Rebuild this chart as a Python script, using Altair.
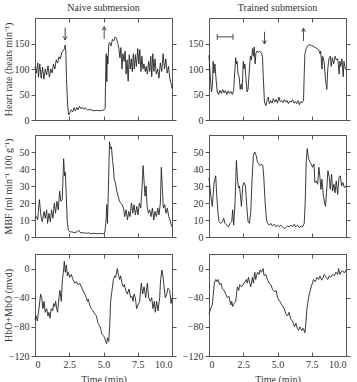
import altair as alt
import pandas as pd

# ---------------- data ----------------
XTICKS = [0, 2.5, 5, 7.5, 10]

# Naive submersion: heart rate
naive_hr_t = [0.0, 0.1, 0.2, 0.25, 0.35, 0.45, 0.55, 0.65, 0.75, 0.85, 0.95, 1.05, 1.15, 1.25, 1.35,
              1.45, 1.55, 1.65, 1.75, 1.85, 1.95, 2.05, 2.15, 2.2, 2.25, 2.3, 2.38, 2.45, 2.55, 2.65,
              2.75, 2.85, 2.95, 3.05, 3.15, 3.25, 3.35, 3.45, 3.55, 3.65, 3.75, 3.85, 3.95, 4.1, 4.3,
              4.5, 4.7, 4.9, 5.05, 5.12, 5.16, 5.2, 5.24, 5.28, 5.32, 5.38, 5.45, 5.55, 5.65, 5.75,
              5.85, 5.95, 6.05, 6.12, 6.2, 6.27, 6.35, 6.42, 6.5, 6.58, 6.65, 6.72, 6.8, 6.88, 6.95,
              7.03, 7.1, 7.18, 7.25, 7.33, 7.4, 7.5, 7.58, 7.65, 7.73, 7.8, 7.88, 7.95, 8.05, 8.12,
              8.2, 8.3, 8.38, 8.45, 8.52, 8.6, 8.68, 8.76, 8.85, 8.95, 9.05, 9.15, 9.25, 9.35, 9.45,
              9.55, 9.65, 9.75, 9.85, 9.95, 10.0]
naive_hr_v = [105, 92, 112, 84, 110, 82, 104, 80, 100, 88, 106, 84, 100, 92, 110,
              100, 118, 112, 124, 120, 132, 136, 140, 147, 135, 80, 30, 10, 14, 20,
              16, 24, 18, 25, 20, 27, 22, 25, 21, 24, 22, 19, 21, 20, 18,
              19, 18, 19, 20, 22, 95, 130, 75, 125, 110, 148, 152, 145, 158, 155,
              163, 160, 150, 140, 122, 142, 100, 130, 115, 135, 90, 118, 76, 128, 100,
              120, 95, 130, 100, 128, 105, 140, 110, 138, 95, 125, 100, 110, 95, 105,
              90, 115, 95, 125, 85, 130, 95, 120, 90, 100, 82, 112, 95, 130, 100,
              120, 92, 105, 80, 70, 62]

# Trained submersion: heart rate
trained_hr_t = [0.0, 0.08, 0.18, 0.25, 0.3, 0.36, 0.43, 0.5, 0.6, 0.7, 0.8, 0.9, 1.0, 1.1, 1.2,
                1.3, 1.4, 1.5, 1.6, 1.7, 1.8, 1.87, 1.95, 2.0, 2.05, 2.12, 2.2, 2.28, 2.35, 2.42,
                2.5, 2.55, 2.62, 2.7, 2.78, 2.85, 2.95, 3.02, 3.1, 3.18, 3.25, 3.3, 3.37, 3.42, 3.5,
                3.6, 3.7, 3.8, 3.9, 3.97, 4.05, 4.15, 4.25, 4.33, 4.4, 4.5, 4.6, 4.7, 4.8, 4.9,
                5.0, 5.1, 5.2, 5.3, 5.4, 5.5, 5.6, 5.7, 5.8, 5.9, 6.0, 6.1, 6.2, 6.3, 6.4,
                6.5, 6.6, 6.7, 6.8, 6.9, 6.95, 7.0, 7.1, 7.2, 7.3, 7.5, 7.7, 7.9, 8.0, 8.1,
                8.15, 8.25, 8.3, 8.4, 8.5, 8.6, 8.67, 8.75, 8.85, 8.92, 9.0, 9.1, 9.2, 9.3, 9.4,
                9.5, 9.55, 9.62, 9.7, 9.8, 9.85, 9.95, 10.0]
trained_hr_v = [127, 90, 55, 70, 115, 92, 110, 85, 55, 50, 58, 52, 60, 53, 58,
                50, 57, 52, 56, 50, 58, 90, 122, 110, 115, 90, 85, 60, 70, 60,
                115, 100, 110, 80, 55, 60, 100, 125, 118, 140, 125, 143, 110, 130, 135,
                133, 135, 132, 125, 80, 35, 28, 40, 45, 32, 38, 33, 42, 35, 40,
                33, 45, 36, 38, 34, 40, 35, 38, 32, 37, 35, 40, 33, 36, 32,
                38, 30, 36, 34, 38, 90, 130, 140, 145, 148, 146, 143, 140, 138, 130,
                135, 100, 125, 115, 80, 60, 100, 120, 125, 105, 122, 110, 125, 118, 120,
                90, 115, 105, 120, 85, 115, 100, 100]

# Naive submersion: muscle blood flow
naive_mbf_t = [0.0, 0.12, 0.19, 0.32, 0.44, 0.53, 0.66, 0.75, 0.85, 0.92, 1.02, 1.12, 1.21, 1.31, 1.41,
               1.5, 1.6, 1.7, 1.8, 1.89, 1.99, 2.09, 2.16, 2.21, 2.28, 2.35, 2.43, 2.55, 2.7, 2.9,
               3.1, 3.2, 3.3, 3.5, 3.7, 3.9, 4.1, 4.3, 4.5, 4.7, 4.9, 5.05, 5.1, 5.17, 5.24,
               5.29, 5.36, 5.44, 5.51, 5.58, 5.66, 5.73, 5.78, 5.87, 5.97, 6.07, 6.17, 6.26, 6.36, 6.46,
               6.55, 6.65, 6.75, 6.84, 6.94, 7.04, 7.14, 7.23, 7.33, 7.43, 7.52, 7.62, 7.72, 7.82, 7.89,
               7.96, 8.03, 8.11, 8.18, 8.28, 8.37, 8.47, 8.57, 8.67, 8.76, 8.86, 8.96, 9.05, 9.15, 9.22,
               9.3, 9.37, 9.47, 9.56, 9.66, 9.76, 9.85, 9.95, 10.0]
naive_mbf_v = [11, 12, 10, 22, 12, 9, 15, 11, 16, 8, 14, 9, 16, 11, 20,
               14, 21, 16, 27, 21, 22, 46, 36, 38, 25, 10, 4, 3, 3, 2.5,
               3.2, 4, 2.6, 2.5, 2.2, 2.4, 2, 2.2, 1.9, 2.1, 1.9, 2, 3, 8, 19,
               8, 30, 56, 52, 53, 45, 40, 34, 32, 27, 24, 21, 20, 19, 17,
               12, 16, 10, 15, 12, 20, 14, 19, 13, 18, 13, 20, 17, 30, 42,
               33, 24, 30, 18, 14, 16, 12, 17, 10, 15, 12, 17, 13, 20, 41,
               28, 17, 19, 14, 17, 12, 10, 7, 6]

# Trained submersion: muscle blood flow
trained_mbf_t = [0.0, 0.12, 0.24, 0.37, 0.49, 0.56, 0.66, 0.73, 0.85, 0.98, 1.07, 1.17, 1.29, 1.41, 1.54,
                 1.66, 1.73, 1.8, 1.9, 2.0, 2.07, 2.15, 2.22, 2.29, 2.37, 2.46, 2.56, 2.66, 2.76, 2.85,
                 2.95, 3.05, 3.15, 3.24, 3.34, 3.44, 3.54, 3.63, 3.73, 3.83, 3.93, 4.0, 4.1, 4.2, 4.29,
                 4.39, 4.51, 4.63, 4.76, 4.88, 5.0, 5.12, 5.24, 5.37, 5.49, 5.61, 5.73, 5.85, 5.98, 6.1,
                 6.22, 6.34, 6.46, 6.59, 6.71, 6.83, 6.95, 7.02, 7.1, 7.17, 7.27, 7.37, 7.46, 7.56, 7.66,
                 7.73, 7.83, 7.93, 8.02, 8.1, 8.17, 8.24, 8.34, 8.44, 8.51, 8.61, 8.68, 8.78, 8.85, 8.95,
                 9.02, 9.12, 9.2, 9.29, 9.39, 9.49, 9.59, 9.68, 9.78, 9.88, 10.0]
trained_mbf_v = [35, 25, 18, 32, 36, 25, 14, 9, 8, 9, 11, 8, 7, 6, 8,
                 9, 16, 7, 20, 45, 35, 29, 30, 25, 18, 30, 32, 30, 18, 9,
                 8, 15, 35, 48, 50, 48, 44, 43, 42, 43, 42, 35, 20, 10, 8,
                 7, 8, 6.5, 7.5, 6, 7, 6, 7, 6, 5, 5.5, 6.5, 6, 7, 6,
                 7.5, 6, 7, 5.5, 6.5, 6, 8, 20, 45, 52, 46, 44, 43, 41, 43,
                 32, 33, 31, 41, 35, 28, 34, 25, 20, 18, 30, 39, 35, 28, 37,
                 27, 31, 26, 33, 25, 35, 36, 30, 32, 29, 30]

# Naive submersion: HbO+MbO
naive_hbo_t = [0.0, 0.07, 0.17, 0.29, 0.41, 0.49, 0.58, 0.66, 0.75, 0.85, 0.95, 1.02, 1.09, 1.19, 1.29,
               1.36, 1.44, 1.51, 1.58, 1.65, 1.75, 1.82, 1.92, 2.0, 2.07, 2.14, 2.21, 2.29, 2.36, 2.43,
               2.53, 2.65, 2.77, 2.9, 3.02, 3.14, 3.26, 3.38, 3.5, 3.63, 3.75, 3.82, 3.89, 3.99, 4.11,
               4.23, 4.36, 4.48, 4.6, 4.7, 4.79, 4.89, 4.99, 5.09, 5.16, 5.23, 5.3, 5.38, 5.45, 5.52,
               5.62, 5.72, 5.82, 5.89, 5.96, 6.01, 6.08, 6.18, 6.25, 6.35, 6.45, 6.52, 6.62, 6.74, 6.86,
               6.98, 7.08, 7.15, 7.23, 7.32, 7.42, 7.52, 7.64, 7.76, 7.86, 7.96, 8.08, 8.2, 8.3, 8.42,
               8.52, 8.61, 8.71, 8.78, 8.88, 8.98, 9.1, 9.17, 9.27, 9.34, 9.42, 9.51, 9.61, 9.71, 9.83,
               9.93, 10.0]
naive_hbo_v = [-70, -65, -72, -55, -35, -40, -55, -45, -60, -55, -65, -60, -68, -55, -58,
               -48, -52, -45, -55, -60, -40, -30, -45, -15, -5, 10, -5, 5, -10, -5,
               -12, -8, -15, -20, -18, -22, -20, -25, -30, -35, -40, -45, -42, -50, -55,
               -58, -62, -65, -75, -78, -82, -90, -92, -95, -100, -103, -95, -100, -80, -45,
               -30, -15, -10, -12, -5, 0, -8, -15, -10, -20, -25, -22, -30, -35, -28,
               -40, -38, -45, -35, -40, -55, -50, -45, -20, -35, -25, -40, -20, -40, -45,
               -40, -55, -45, -60, -45, -58, -40, -15, -2, -10, -25, -40, -35, -27, -30,
               -48, -40]

# Trained submersion: HbO+MbO
trained_hbo_t = [0.0, 0.12, 0.24, 0.39, 0.49, 0.59, 0.66, 0.78, 0.88, 0.98, 1.1, 1.22, 1.34, 1.46, 1.59,
                 1.66, 1.73, 1.83, 1.95, 2.07, 2.17, 2.24, 2.39, 2.56, 2.73, 2.8, 2.88, 2.98, 3.05, 3.17,
                 3.24, 3.34, 3.41, 3.54, 3.66, 3.73, 3.83, 3.95, 4.02, 4.15, 4.27, 4.39, 4.51, 4.63, 4.8,
                 4.9, 5.0, 5.17, 5.32, 5.49, 5.61, 5.73, 5.85, 5.98, 6.1, 6.24, 6.34, 6.44, 6.54, 6.63,
                 6.78, 6.88, 7.0, 7.07, 7.15, 7.27, 7.39, 7.51, 7.63, 7.76, 7.88, 8.0, 8.1, 8.22, 8.29,
                 8.41, 8.54, 8.66, 8.78, 8.9, 9.02, 9.15, 9.27, 9.39, 9.46, 9.56, 9.63, 9.76, 9.88, 10.0]
trained_hbo_v = [-62, -55, -50, -20, -15, -18, -15, -22, -20, -28, -30, -35, -40, -38, -50,
                 -45, -52, -48, -45, -25, -30, -22, -25, -20, -15, -20, -12, -20, -25, -12,
                 -20, -5, -15, -5, -8, -2, -5, 0, -10, -8, -15, -20, -22, -28, -32,
                 -30, -40, -45, -50, -55, -62, -65, -60, -70, -72, -80, -75, -82, -85, -80,
                 -85, -82, -88, -75, -55, -40, -30, -22, -15, -18, -12, -15, -10, -16, -14,
                 -8, -12, -15, -10, -12, -8, -10, -5, -8, 0, -8, -5, -3, -6, -2]

# annotations: arrows (time, tail HR, tip HR, direction) and the scale bar
naive_arrow_t = [2.2, 5.05]
naive_arrow_tail = [181, 159]
naive_arrow_tip = [157, 183]
naive_arrow_dir = ["down", "up"]
trained_arrow_t = [4.05, 6.9]
trained_arrow_tail = [173, 155]
trained_arrow_tip = [149, 180]
trained_arrow_dir = ["down", "up"]
bar_t = [0.6, 1.75]
bar_hr = 163
bar_cap = 6

HR_DOMAIN = [0, 200]
HR_TICKS = [0, 50, 100, 150]
MBF_DOMAIN = [0, 60]
MBF_TICKS = [0, 10, 20, 30, 40, 50]
HBO_DOMAIN = [-120, 20]
HBO_TICKS = [-120, -80, -40, 0]

FONT = "Liberation Serif"
INK = "#333333"
W, H = 137, 102
HEAD_DOWN = "M -0.7 -1.3 L 0 0 L 0.7 -1.3"
HEAD_UP = "M -0.7 1.3 L 0 0 L 0.7 1.3"


def xsc():
    return alt.Scale(domain=[0, 10], nice=False, zero=False)


def ysc(dom):
    return alt.Scale(domain=dom, nice=False, zero=False)


def panel(t, v, ydom, yticks, ytitle, xlabels, title, extras):
    df = pd.DataFrame({"t": t, "v": v})
    xb = dict(orient="bottom", values=XTICKS, offset=-4, tickSize=4, domain=False,
              grid=False, labels=xlabels, labelPadding=3,
              labelExpr="datum.value == 0 ? '0' : format(datum.value, '.1f')")
    if xlabels:
        xb.update(title="Time (min)", titlePadding=5)
    else:
        xb.update(title=None)
    yl = dict(orient="left", values=yticks, tickSize=4, domain=False, grid=False,
              labelPadding=2)
    if ytitle:
        yl.update(title=ytitle, titleX=-22)
    else:
        yl.update(title=None)
    line = alt.Chart(df).mark_line(color="#262626", strokeWidth=0.9).encode(
        x=alt.X("t:Q", scale=xsc(), axis=alt.Axis(**xb)),
        y=alt.Y("v:Q", scale=ysc(ydom), axis=alt.Axis(**yl)),
    )
    ghost = alt.Chart(df).mark_line(opacity=0).encode(
        x=alt.X("t:Q", scale=xsc(), axis=alt.Axis(orient="top", values=XTICKS, offset=-4,
                                                   tickSize=4, labels=False, domain=False,
                                                   grid=False, title=None)),
        y=alt.Y("v:Q", scale=ysc(ydom), axis=alt.Axis(orient="right", values=yticks,
                                                      tickSize=4, labels=False, domain=False,
                                                      grid=False, title=None)),
    )
    ch = alt.layer(line, ghost, *extras).resolve_axis(x="independent", y="independent")
    ch = ch.properties(width=W, height=H)
    if title:
        ch = ch.properties(title=alt.TitleParams(title, font=FONT, fontSize=10,
                                                 fontWeight="normal", color=INK,
                                                 offset=5, anchor="middle"))
    return ch


def arrows(t, tail, tip, dirs):
    df = pd.DataFrame({"t": t, "a": tail, "b": tip, "d": dirs})
    shaft = alt.Chart(df).mark_rule(color=INK, strokeWidth=0.9).encode(
        x=alt.X("t:Q", scale=xsc(), axis=None),
        y=alt.Y("a:Q", scale=ysc(HR_DOMAIN), axis=None), y2="b:Q")
    heads = []
    for d, path in (("down", HEAD_DOWN), ("up", HEAD_UP)):
        heads.append(alt.Chart(df).transform_filter(alt.datum.d == d).mark_point(
            shape=path, size=30, filled=False, stroke=INK, strokeWidth=0.9, opacity=1).encode(
            x=alt.X("t:Q", scale=xsc(), axis=None),
            y=alt.Y("b:Q", scale=ysc(HR_DOMAIN), axis=None)))
    return [shaft] + heads


def scalebar():
    bar = alt.Chart(pd.DataFrame({"t": [bar_t[0]], "t2": [bar_t[1]], "v": [bar_hr]})).mark_rule(
        color=INK, strokeWidth=0.9).encode(
        x=alt.X("t:Q", scale=xsc(), axis=None), x2="t2:Q",
        y=alt.Y("v:Q", scale=ysc(HR_DOMAIN), axis=None))
    caps = alt.Chart(pd.DataFrame({"t": bar_t, "v": [bar_hr - bar_cap] * 2,
                                   "v2": [bar_hr + bar_cap] * 2})).mark_rule(
        color=INK, strokeWidth=0.9).encode(
        x=alt.X("t:Q", scale=xsc(), axis=None),
        y=alt.Y("v:Q", scale=ysc(HR_DOMAIN), axis=None), y2="v2:Q")
    return [bar, caps]


p1 = panel(naive_hr_t, naive_hr_v, HR_DOMAIN, HR_TICKS, "Heart rate (beats min\u207b\u00b9)",
           False, "Naive submersion",
           arrows(naive_arrow_t, naive_arrow_tail, naive_arrow_tip, naive_arrow_dir))
p2 = panel(trained_hr_t, trained_hr_v, HR_DOMAIN, HR_TICKS, None, False, "Trained submersion",
           arrows(trained_arrow_t, trained_arrow_tail, trained_arrow_tip, trained_arrow_dir)
           + scalebar())
p3 = panel(naive_mbf_t, naive_mbf_v, MBF_DOMAIN, MBF_TICKS,
           "MBF (ml min\u207b\u00b9 100 g\u207b\u00b9)", False, None, [])
p4 = panel(trained_mbf_t, trained_mbf_v, MBF_DOMAIN, MBF_TICKS, None, False, None, [])
p5 = panel(naive_hbo_t, naive_hbo_v, HBO_DOMAIN, HBO_TICKS, "HbO+MbO (mvd)", True, None, [])
p6 = panel(trained_hbo_t, trained_hbo_v, HBO_DOMAIN, HBO_TICKS, None, True, None, [])

left = alt.vconcat(alt.vconcat(p1, p3, spacing=8), p5, spacing=10)
right = alt.vconcat(alt.vconcat(p2, p4, spacing=8), p6, spacing=10)

chart = alt.hconcat(left, right, spacing=4).properties(
    padding={"left": 2, "top": 2, "right": 0, "bottom": 0}
).configure_view(stroke="#555555", strokeWidth=1).configure_axis(
    tickColor="#555555", tickWidth=1, labelFont=FONT, labelFontSize=10, labelColor=INK,
    titleFont=FONT, titleFontSize=10, titleFontWeight="normal", titleColor=INK,
)

chart.save("out.html", embed_options={"renderer": "svg", "actions": False})
